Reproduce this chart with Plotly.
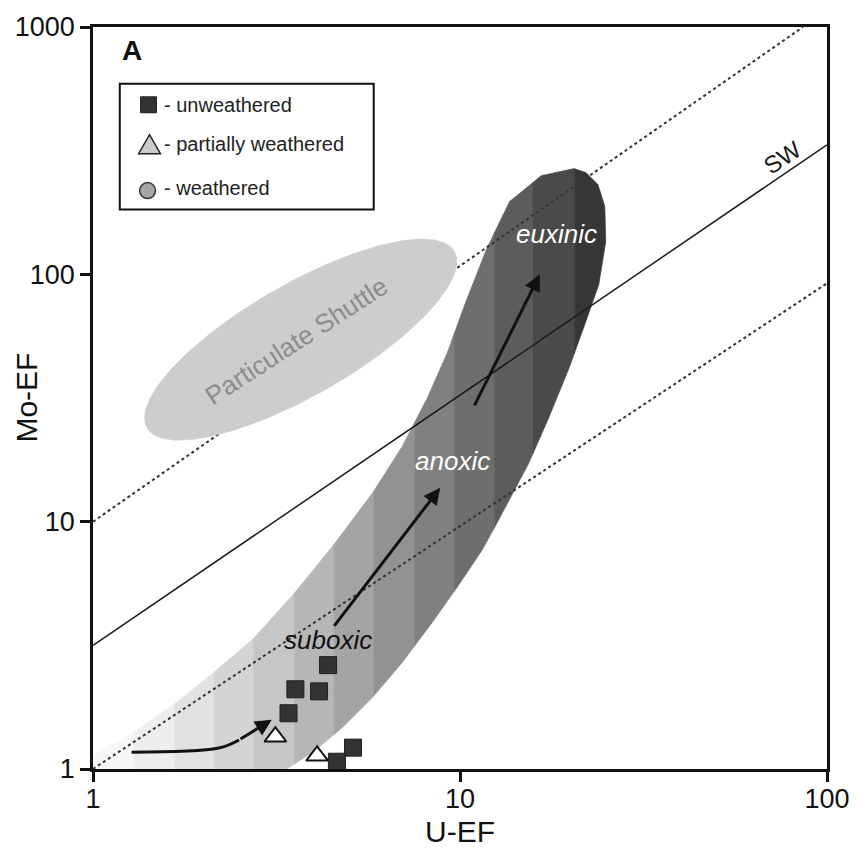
import numpy as np
import plotly.graph_objects as go

# ---------------- data ----------------
tick_x = [1, 10, 100]
tick_x_text = ["1", "10", "100"]
tick_y = [1, 10, 100, 1000]
tick_y_text = ["1", "10", "100", "1000"]

# samples
unweathered_U = [4.37, 3.56, 4.13, 3.41, 5.11, 4.62]
unweathered_Mo = [2.63, 2.10, 2.06, 1.68, 1.22, 1.07]
partial_U = [3.14, 4.08]
partial_Mo = [1.35, 1.13]

# Mo/U reference lines (end points)
sw_U = [1, 100]
sw_Mo = [3.16, 334]
upper_U = [1, 86]
upper_Mo = [10, 1000]
lower_U = [1, 100]
lower_Mo = [1, 92]

# redox field outline (U-EF, Mo-EF)
band_U = [1.000, 1.283, 1.666, 2.137, 2.741, 3.516, 4.510, 5.784, 6.970, 8.143, 9.224,
          10.31, 11.83, 13.65, 16.66, 20.46,
          22.04, 23.76, 24.81, 24.96, 23.90, 22.04, 19.83, 17.40, 15.37, 13.40, 11.47,
          9.815, 8.403, 6.970, 5.784, 4.798, 3.981, 3.365, 1.0]
band_Mo = [1.139, 1.397, 1.829, 2.461, 3.375, 5.078, 8.002, 13.09, 20.25, 31.62, 48.03,
           75.69, 127.3, 197.0, 250.7, 267.6,
           257.8, 230.7, 188.0, 135.9, 91.1, 64.6, 41.8, 26.02, 17.13, 11.60, 7.64,
           5.42, 3.914, 2.701, 1.951, 1.477, 1.171, 1.0, 1.0]
stripe_edges_U = [1.0, 1.29, 1.67, 2.14, 2.74, 3.54, 4.54, 5.82, 7.52, 9.64, 12.4, 15.8, 20.5, 30]
stripe_colors = ['#f7f7f7', '#eeeeee', '#e2e2e2', '#d4d4d4', '#c6c6c6', '#b6b6b6', '#a4a4a4',
                 '#929292', '#808080', '#6e6e6e', '#5c5c5c', '#4a4a4a', '#363636']

# particulate shuttle field: centre and semi-axis vectors in log10 decades
shuttle_center = (0.566, 1.736)
shuttle_major = (0.419, 0.3565)
shuttle_minor = (0.0749, -0.196)

# arrows (tail -> tip)
curve_U = [1.274, 2.20, 2.50]
curve_Mo = [1.17, 1.215, 1.31]
curve_tip = (3.07, 1.58)
arrow_tail_U = [4.51, 10.9]
arrow_tail_Mo = [3.74, 29.1]
arrow_tip_U = [8.83, 16.5]
arrow_tip_Mo = [13.7, 100]

FONT = "Liberation Sans, Arial, Helvetica, sans-serif"

# ---------------- helpers ----------------
L, R, T, B = 93, 833, 25, 769


def px(x):
    return (x - L) / (R - L)


def py(y):
    return (B - y) / (B - T)


def clip_strip(lx, ly, x0, x1):
    pts = list(zip(lx, ly))

    def clip(pts, inside, xc):
        out = []
        n = len(pts)
        for i in range(n):
            cur, prev = pts[i], pts[i - 1]

            def inter(p, q):
                t = (xc - p[0]) / (q[0] - p[0])
                return (xc, p[1] + t * (q[1] - p[1]))
            if inside(cur):
                if not inside(prev):
                    out.append(inter(prev, cur))
                out.append(cur)
            elif inside(prev):
                out.append(inter(prev, cur))
        return out

    pts = clip(pts, lambda p: p[0] >= x0, x0)
    if pts:
        pts = clip(pts, lambda p: p[0] <= x1, x1)
    return pts


fig = go.Figure()

# redox field stripes
lbx = np.log10(band_U)
lby = np.log10(band_Mo)
edges = np.log10(stripe_edges_U)
for i, col in enumerate(stripe_colors):
    pts = clip_strip(lbx, lby, edges[i], edges[i + 1])
    if len(pts) < 3:
        continue
    xs = [10 ** p[0] for p in pts] + [10 ** pts[0][0]]
    ys = [10 ** p[1] for p in pts] + [10 ** pts[0][1]]
    fig.add_trace(go.Scatter(x=xs, y=ys, mode="lines", fill="toself", fillcolor=col,
                             line=dict(color=col, width=0.6), hoverinfo="skip",
                             showlegend=False))

# reference lines
fig.add_trace(go.Scatter(x=upper_U, y=upper_Mo, mode="lines",
                         line=dict(color="#333333", width=2, dash="dot"), showlegend=False))
fig.add_trace(go.Scatter(x=lower_U, y=lower_Mo, mode="lines",
                         line=dict(color="#333333", width=2, dash="dot"), showlegend=False))
fig.add_trace(go.Scatter(x=sw_U, y=sw_Mo, mode="lines",
                         line=dict(color="#1a1a1a", width=1.5), showlegend=False))

# particulate shuttle ellipse
t = np.linspace(0, 2 * np.pi, 200)
ex = shuttle_center[0] + shuttle_major[0] * np.cos(t) + shuttle_minor[0] * np.sin(t)
ey = shuttle_center[1] + shuttle_major[1] * np.cos(t) + shuttle_minor[1] * np.sin(t)
fig.add_trace(go.Scatter(x=10 ** ex, y=10 ** ey, mode="lines", fill="toself",
                         fillcolor="#cdcdcd", line=dict(color="#cdcdcd", width=0.5),
                         hoverinfo="skip", showlegend=False))

# curved arrow body
fig.add_trace(go.Scatter(x=curve_U, y=curve_Mo, mode="lines",
                         line=dict(color="#111111", width=3, shape="spline"), showlegend=False))

# samples
fig.add_trace(go.Scatter(x=unweathered_U, y=unweathered_Mo, mode="markers",
                         marker=dict(symbol="square", size=17, color="#333333",
                                     line=dict(color="#1f1f1f", width=1)),
                         name="unweathered", showlegend=False))
fig.add_trace(go.Scatter(x=partial_U, y=partial_Mo, mode="markers",
                         marker=dict(symbol="triangle-up", size=19, color="#ffffff",
                                     line=dict(color="#111111", width=2)),
                         name="partially weathered", showlegend=False))

ann = []
# curved arrow head
ann.append(dict(x=np.log10(curve_tip[0]), y=np.log10(curve_tip[1]),
                ax=np.log10(curve_U[-1]), ay=np.log10(curve_Mo[-1]),
                xref="x", yref="y", axref="x", ayref="y", text="", showarrow=True,
                arrowhead=2, arrowsize=1.1, arrowwidth=3, arrowcolor="#111111"))
for tu, tm, hu, hm in zip(arrow_tail_U, arrow_tail_Mo, arrow_tip_U, arrow_tip_Mo):
    ann.append(dict(x=np.log10(hu), y=np.log10(hm), ax=np.log10(tu), ay=np.log10(tm),
                    xref="x", yref="y", axref="x", ayref="y", text="", showarrow=True,
                    arrowhead=2, arrowsize=1.1, arrowwidth=3, arrowcolor="#111111"))


# field labels
def lab(u, m, text, color, size=26, angle=0, italic=True):
    style = "italic" if italic else "normal"
    return dict(x=np.log10(u), y=np.log10(m), xref="x", yref="y", text=text,
                showarrow=False, textangle=angle, xanchor="center", yanchor="middle",
                font=dict(family=FONT, size=size, color=color, style=style))


ann.append(lab(4.37, 3.31, "suboxic", "#111111"))
ann.append(lab(9.52, 17.6, "anoxic", "#ffffff"))
ann.append(lab(18.3, 146, "euxinic", "#ffffff"))
ann.append(lab(3.58, 53.7, "Particulate Shuttle", "#8c8c8c", size=26, angle=-33, italic=False))
ann.append(lab(75.5, 296, "SW", "#1a1a1a", size=24, angle=-34, italic=False))

# panel letter
ann.append(dict(x=px(120), y=py(49), xref="paper", yref="paper", xanchor="left",
                yanchor="middle", text="<b>A</b>", showarrow=False,
                font=dict(family=FONT, size=28, color="#111111")))

# axis titles
ann.append(dict(x=0.5, y=py(832), xref="paper", yref="paper", text="U-EF", showarrow=False,
                xanchor="center", yanchor="middle",
                font=dict(family=FONT, size=30, color="#111111")))
ann.append(dict(x=px(25), y=py(397), xref="paper", yref="paper", text="Mo-EF",
                showarrow=False, textangle=-90, xanchor="center", yanchor="middle",
                font=dict(family=FONT, size=30, color="#111111")))

# legend
legend_labels = ["- unweathered", "- partially weathered", "- weathered"]
legend_y = [103, 142, 186]
for txt, yy in zip(legend_labels, legend_y):
    ann.append(dict(x=px(163), y=py(yy), xref="paper", yref="paper", xanchor="left",
                    yanchor="middle", text=txt, showarrow=False,
                    font=dict(family=FONT, size=20, color="#222222")))

shapes = [
    dict(type="rect", xref="paper", yref="paper", x0=px(120), x1=px(376), y0=py(208), y1=py(82),
         line=dict(color="#111111", width=2), fillcolor="#ffffff", layer="above"),
    dict(type="rect", xref="paper", yref="paper", x0=px(141), x1=px(157), y0=py(111), y1=py(95),
         line=dict(color="#1f1f1f", width=1), fillcolor="#333333", layer="above"),
    dict(type="path", xref="paper", yref="paper",
         path=f"M{px(139)},{py(152)} L{px(161)},{py(152)} L{px(150)},{py(133)} Z",
         line=dict(color="#222222", width=1.5), fillcolor="#cccccc", layer="above"),
    dict(type="circle", xref="paper", yref="paper", x0=px(140), x1=px(156), y0=py(197), y1=py(181),
         line=dict(color="#333333", width=1.5), fillcolor="#a6a6a6", layer="above"),
]

axis_common = dict(type="log", showline=True, linecolor="#111111", linewidth=2.5, mirror=True,
                   ticks="outside", ticklen=10, tickwidth=2.5, tickcolor="#111111",
                   showgrid=False, zeroline=False,
                   tickfont=dict(family=FONT, size=27, color="#111111"))

fig.update_layout(
    width=862, height=848,
    margin=dict(l=L, r=862 - R, t=T, b=848 - B),
    paper_bgcolor="#ffffff", plot_bgcolor="#ffffff",
    showlegend=False,
    xaxis=dict(range=[0, 2], tickvals=tick_x, ticktext=tick_x_text, **axis_common),
    yaxis=dict(range=[0, 3], tickvals=tick_y, ticktext=tick_y_text, **axis_common),
    annotations=ann, shapes=shapes,
)

try:
    fig.update_xaxes(ticklabelstandoff=-6)
except Exception:
    pass

fig.write_html("out.html")
